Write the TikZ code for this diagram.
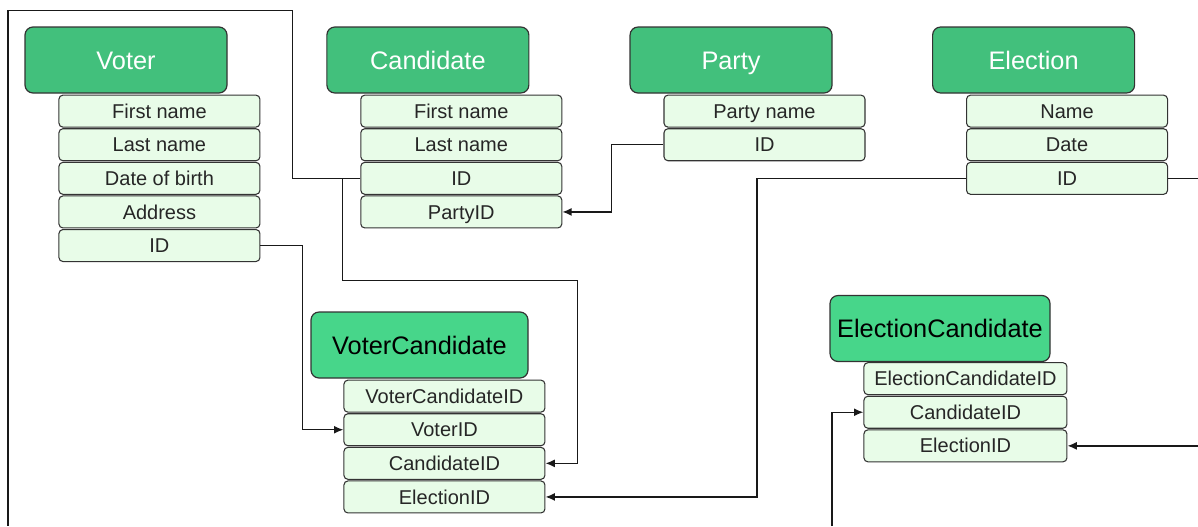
\documentclass[tikz,border=0pt]{standalone}
\usepackage{fontspec}
\setmainfont{Liberation Sans}
\usepackage{xcolor}
\usetikzlibrary{positioning, arrows.meta, calc}
\definecolor{headgreen}{HTML}{42C07C}
\definecolor{headlight}{HTML}{47D68A}
\definecolor{fieldgreen}{HTML}{E8FCE8}
\definecolor{edgegray}{HTML}{333333}

\begin{document}
\begin{tikzpicture}[
    x=0.75pt, y=-0.75pt,
    tablehead/.style={
        rectangle,
        draw=edgegray,
        line width=0.9pt,
        rounded corners=6pt,
        fill=headgreen,
        minimum width=151.5pt,
        minimum height=49.5pt,
        inner sep=0pt,
        text height=13.6pt,
        text depth=0pt,
        text=white,
        font=\fontsize{19}{22}\selectfont
    },
    linkhead/.style={tablehead, fill=headlight, text=black},
    field/.style={
        rectangle,
        draw=edgegray,
        line width=0.8pt,
        rounded corners=3pt,
        fill=fieldgreen,
        minimum width=150.75pt,
        minimum height=24pt,
        inner sep=0pt,
        text height=10.7pt,
        text depth=0pt,
        text=black!85,
        font=\fontsize{15}{18}\selectfont
    },
    link/.style={line width=1.1pt, black!90},
    fk/.style={link, ->, >={Latex[length=7pt, width=6pt]}}
]
    \useasboundingbox (0,0) rectangle (1198,526);

    % Row 1: Voter + Candidate + Party + Election
    \node[tablehead] (voter) at (126,60) {Voter};
    \node[field, anchor=north west] (voterFirst) at ([shift={(34,1)}]voter.south west) {First name};
    \node[field, below=0.4pt of voterFirst] (voterLast) {Last name};
    \node[field, below=0.4pt of voterLast] (voterBirth) {Date of birth};
    \node[field, below=0.4pt of voterBirth] (voterAddr) {Address};
    \node[field, below=0.4pt of voterAddr] (voterId) {ID};

    \node[tablehead, right=74pt of voter] (cand) {Candidate};
    \node[field, anchor=north west] (candFirst) at ([shift={(34,1)}]cand.south west) {First name};
    \node[field, below=0.4pt of candFirst] (candLast) {Last name};
    \node[field, below=0.4pt of candLast] (candId) {ID};
    \node[field, below=0.4pt of candId] (candParty) {PartyID};

    \node[tablehead, right=75pt of cand] (party) {Party};
    \node[field, anchor=north west] (partyName) at ([shift={(34,1)}]party.south west) {Party name};
    \node[field, below=0.4pt of partyName] (partyId) {ID};

    \node[tablehead, right=74.5pt of party] (elec) {Election};
    \node[field, anchor=north west] (elecName) at ([shift={(34,1)}]elec.south west) {Name};
    \node[field, below=0.4pt of elecName] (elecDate) {Date};
    \node[field, below=0.4pt of elecDate] (elecId) {ID};

    % Row 2: link tables
    \node[linkhead, minimum width=162.75pt] (vc) at (419.5,345) {VoterCandidate};
    \node[field, anchor=north west] (vcId) at ([shift={(33,1)}]vc.south west) {VoterCandidateID};
    \node[field, below=0.4pt of vcId] (vcVoter) {VoterID};
    \node[field, below=0.4pt of vcVoter] (vcCand) {CandidateID};
    \node[field, below=0.4pt of vcCand] (vcElec) {ElectionID};

    \node[linkhead, minimum width=165pt] (ec) at (940,328.5) {ElectionCandidate};
    \node[field, minimum width=152.25pt, anchor=north west] (ecId) at ([shift={(34,0)}]ec.south west) {ElectionCandidateID};
    \node[field, minimum width=152.25pt, below=0.4pt of ecId] (ecCand) {CandidateID};
    \node[field, minimum width=152.25pt, below=0.4pt of ecCand] (ecElec) {ElectionID};

    % Free ends at the picture edge
    \coordinate (offLeft) at (8,526);
    \coordinate (edgeR) at (1198,0);
    \coordinate (inBottom) at (832,526);

    % Arrows
    \draw[link] (candId.west) -- ++(-68,0) -- ++(0,-168) -| (offLeft);
    \draw[fk] ($(candId.west)+(-18,0)$) -- ++(0,102) -| ($(vcCand.east)+(32,0)$) -- (vcCand.east);
    \draw[fk] (voterId.east) -- ++(42,0) |- (vcVoter.west);
    \draw[fk] (partyId.west) -- ++(-52,0) |- (candParty.east);
    \draw[fk] (elecId.west) -- ++(-209,0) |- (vcElec.east);
    \draw[link] (elecId.east) -- (elecId.east -| edgeR);
    \draw[fk] (ecElec.east -| edgeR) -- (ecElec.east);
    \draw[fk] (inBottom) |- (ecCand.west);
\end{tikzpicture}
\end{document}
